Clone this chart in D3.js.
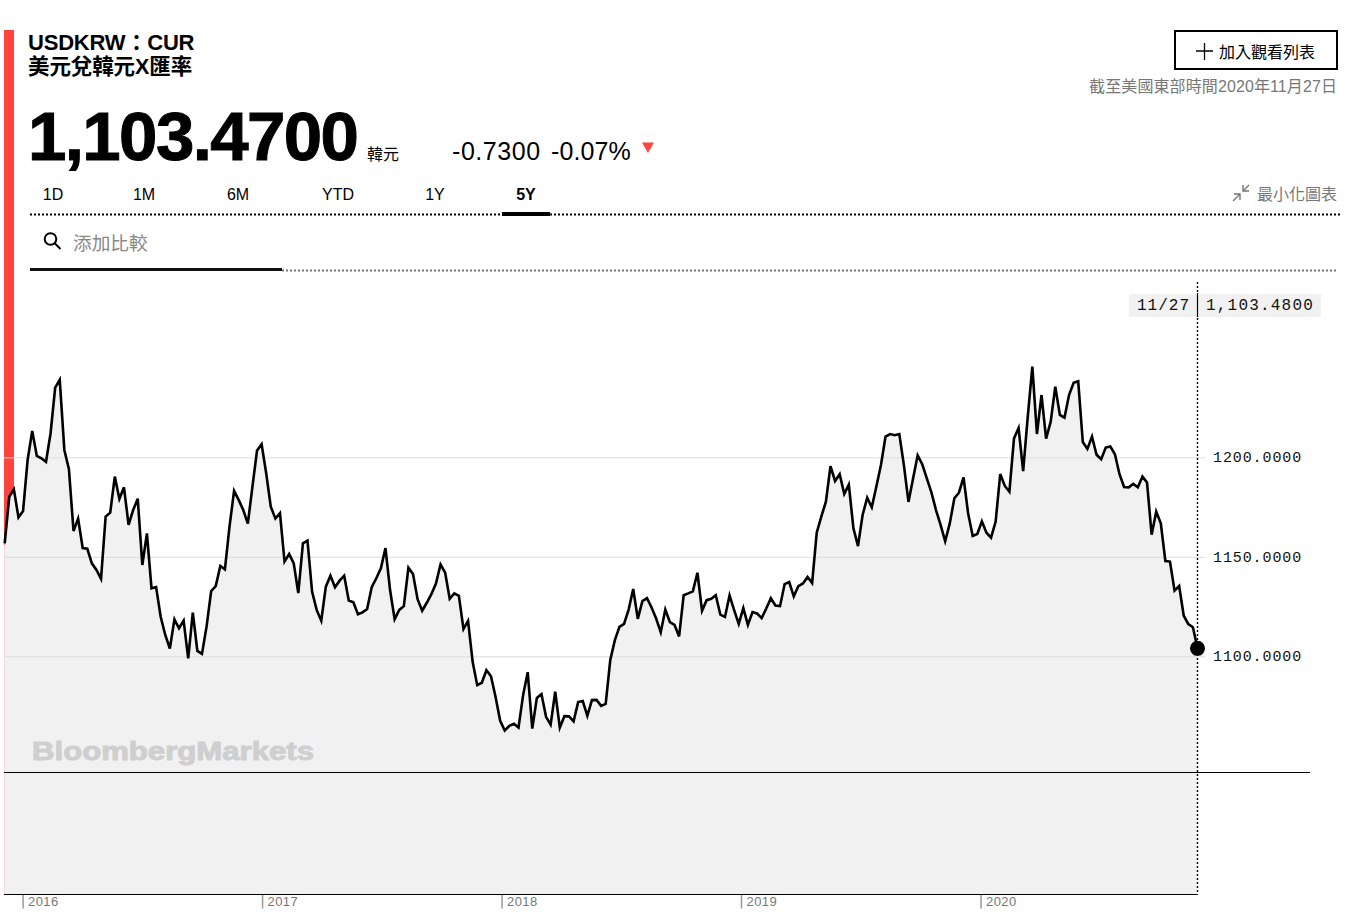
<!DOCTYPE html>
<html>
<head>
<meta charset="utf-8">
<title>USDKRW</title>
<script src="https://cdn.jsdelivr.net/npm/d3@7"></script>
<style>
  html, body { margin: 0; padding: 0; background: #fff; }
  svg { display: block; }
  text { font-family: "Liberation Sans", "Noto Sans CJK TC", sans-serif; }
  .mono { font-family: "Liberation Mono", monospace; }
</style>
</head>
<body>
<svg id="chart" width="1368" height="916"></svg>
<script>
// weekly closes
const closes = [
  1156.8, 1180.2, 1183.9, 1169.8, 1173, 1198.7, 1213.2, 1200.7, 1199.5, 1197.7,
  1212.1, 1235, 1238.9, 1203.7, 1194, 1163, 1169.2, 1154.4, 1154.1, 1146.7,
  1143.4, 1138.9, 1170.2, 1172.2, 1190.3, 1179.1, 1184.9, 1166, 1173.5, 1179.2,
  1145.9, 1161.8, 1134.2, 1134.8, 1119.9, 1110.7, 1103.9, 1118.6, 1114.1, 1117.9,
  1099, 1121.9, 1102.7, 1101.2, 1114.9, 1132.7, 1135.3, 1145.4, 1143.7, 1165.2,
  1183.1, 1178.6, 1173.5, 1166.7, 1185.3, 1203.4, 1206.5, 1192, 1175.2, 1169.2,
  1171.9, 1147.6, 1151.4, 1146.7, 1131.8, 1156.8, 1158.1, 1132.5, 1123.3, 1117.9,
  1135, 1140.5, 1134.7, 1138, 1140.5, 1128, 1127.1, 1121.1, 1122.1, 1123.8,
  1134.7, 1139.2, 1144.2, 1154.4, 1133.3, 1118.6, 1123.3, 1125.2, 1144.5, 1141.3,
  1128.7, 1122.9, 1126.9, 1131.2, 1136.6, 1146.1, 1142.1, 1128.9, 1131.6, 1130.4,
  1113.7, 1117.8, 1097.2, 1085.5, 1086.7, 1093, 1090, 1079.6, 1067.6, 1062.7,
  1065.1, 1066.1, 1064.2, 1080.5, 1092, 1063.7, 1079.1, 1081, 1069.6, 1065.7,
  1082.2, 1064.2, 1069.9, 1069.8, 1067.3, 1077, 1077.5, 1070.1, 1078, 1078.1,
  1075.1, 1076.1, 1098.1, 1108.1, 1114.8, 1116.3, 1123.5, 1133.8, 1118.8, 1127.7,
  1129.2, 1124.5, 1119, 1112.1, 1123.5, 1117.2, 1115.8, 1110, 1130.7, 1131.6,
  1132.6, 1142, 1122.9, 1128.2, 1128.9, 1130.7, 1120.9, 1119.8, 1130.6, 1123.2,
  1116.3, 1124.2, 1115.8, 1122.2, 1121.5, 1119.2, 1124, 1129.2, 1125.5, 1125.2,
  1136.3, 1137.3, 1130.1, 1135.3, 1136.6, 1139.9, 1136.8, 1162.1, 1170.2, 1177.7,
  1195.6, 1188.1, 1191.5, 1181.6, 1186.3, 1164.3, 1155.4, 1171, 1179.7, 1174.9,
  1185.3, 1196.1, 1210.4, 1211.7, 1211.1, 1211.7, 1196.1, 1177.6, 1189.4, 1201,
  1196.5, 1189.4, 1182.4, 1173.5, 1166, 1157.8, 1166.8, 1179.4, 1182.2, 1189.9,
  1171.9, 1160.5, 1161.5, 1167.8, 1162.1, 1159.6, 1167.7, 1191.6, 1185.6, 1182.7,
  1209.5, 1214.7, 1193, 1220.4, 1245.6, 1211.7, 1231.3, 1209.4, 1217.9, 1235.5,
  1221.3, 1219.9, 1231.3, 1237.4, 1238.2, 1207.7, 1204.2, 1210.4, 1201.3, 1199,
  1204.9, 1205.4, 1201.5, 1191.5, 1185.1, 1184.9, 1186.6, 1184.9, 1190.3, 1187.3,
  1161.1, 1172.7, 1166.8, 1147.9, 1147.6, 1133, 1135.3, 1120.4, 1116.2, 1114.6,
  1104
];
const yTicks = [1100, 1150, 1200];
const yearTicks = [3.9, 56.1, 108.3, 160.5, 212.7];
const yearLabels = ["2016", "2017", "2018", "2019", "2020"];
const rangeTabs = ["1D", "1M", "6M", "YTD", "1Y", "5Y"];
const tabCenters = [53, 144, 238, 338, 435, 526];

const svg = d3.select("#chart");
const plotLeft = 4.7, plotRight = 1197.5, plotBottom = 894.5, volumeTop = 772.5;

const x = d3.scaleLinear().domain([0, closes.length - 1]).range([plotLeft, plotRight]);
const y = d3.scaleLinear().domain([1100, 1200]).range([656.3, 457.3]);

// red side bar sits under the area fill
svg.append("rect").attr("x", 4).attr("y", 30).attr("width", 10).attr("height", 864).attr("fill", "#ff433d");

function drawChart() {
  const area = d3.area().x((d, i) => x(i)).y0(plotBottom).y1((d) => y(d));
  const line = d3.line().x((d, i) => x(i)).y((d) => y(d));

  svg.append("path").datum(closes).attr("d", area).attr("fill", "#f1f1f1");
  // faint pink edge left of the fill
  svg.append("rect").attr("x", 4).attr("y", 545).attr("width", 1).attr("height", 349).attr("fill", "#fbd9d7");

  const yAxis = svg.append("g")
    .attr("transform", "translate(1205,0)")
    .call(d3.axisRight(y).tickValues(yTicks).tickFormat(d3.format(".4f")).tickSize(-1201).tickPadding(8));
  yAxis.select(".domain").remove();
  yAxis.selectAll("line").attr("stroke", "#dcdcdc").attr("stroke-width", 1);
  yAxis.selectAll("text")
    .attr("class", "mono")
    .attr("x", 8)
    .attr("dy", "0.28em")
    .attr("font-size", 15)
    .attr("letter-spacing", 0.9)
    .attr("fill", "#111");

  // watermark
  svg.append("text")
    .attr("x", 32).attr("y", 760)
    .attr("font-size", 26).attr("font-weight", 700)
    .attr("fill", "#cfcfcf").attr("stroke", "#cfcfcf").attr("stroke-width", 1)
    .attr("textLength", 282).attr("lengthAdjust", "spacingAndGlyphs")
    .text("BloombergMarkets");

  svg.append("line").attr("x1", 4).attr("x2", 1310).attr("y1", volumeTop).attr("y2", volumeTop)
    .attr("stroke", "#000").attr("stroke-width", 1);

  const xAxis = svg.append("g")
    .attr("transform", `translate(0,${plotBottom})`)
    .call(d3.axisBottom(x).tickValues(yearTicks).tickFormat((d, i) => yearLabels[i]).tickSize(14));
  xAxis.select(".domain").remove();
  xAxis.selectAll("line").attr("stroke", "#999").attr("stroke-width", 1.5);
  xAxis.selectAll("text")
    .attr("text-anchor", "start")
    .attr("x", 5).attr("y", 2).attr("dy", "0.71em")
    .attr("font-size", 13).attr("letter-spacing", 0.4)
    .attr("fill", "#777");

  svg.append("line").attr("x1", 4).attr("x2", plotRight).attr("y1", plotBottom).attr("y2", plotBottom)
    .attr("stroke", "#000").attr("stroke-width", 1);

  svg.append("path").datum(closes).attr("d", line)
    .attr("fill", "none").attr("stroke", "#000").attr("stroke-width", 2.6)
    .attr("stroke-linejoin", "miter");

  // crosshair + value label
  svg.append("line").attr("x1", plotRight).attr("x2", plotRight).attr("y1", 282).attr("y2", plotBottom)
    .attr("stroke", "#000").attr("stroke-width", 1.4).attr("stroke-dasharray", "2 2");
  svg.append("rect").attr("x", 1129).attr("y", 294).attr("width", 192).attr("height", 23).attr("fill", "#f1f1f1");
  svg.append("line").attr("x1", plotRight).attr("x2", plotRight).attr("y1", 293).attr("y2", 317)
    .attr("stroke", "#000").attr("stroke-width", 1.2);
  svg.append("text").attr("class", "mono").attr("x", 1137).attr("y", 310)
    .attr("font-size", 16).attr("letter-spacing", 1).attr("fill", "#111").text("11/27");
  svg.append("text").attr("class", "mono").attr("x", 1206).attr("y", 310)
    .attr("font-size", 16).attr("letter-spacing", 1.2).attr("fill", "#111").text("1,103.4800");

  svg.append("circle").attr("cx", x(closes.length - 1)).attr("cy", y(closes[closes.length - 1])).attr("r", 7.5).attr("fill", "#000");
}

function drawHeader() {
  const label = (tx, ty, size, str, opts = {}) =>
    svg.append("text").attr("x", tx).attr("y", ty).attr("font-size", size)
      .attr("font-weight", opts.weight || 400)
      .attr("fill", opts.fill || "#000")
      .attr("text-anchor", opts.anchor || "start")
      .attr("letter-spacing", opts.spacing || 0)
      .text(str);

  label(28, 50, 22, "USDKRW：CUR", { weight: 700, spacing: -0.2 });
  label(28, 74, 21.5, "美元兌韓元X匯率", { weight: 700, spacing: -0.1 });
  label(28, 160, 69, "1,103.4700", { weight: 700, spacing: -1.6 })
    .attr("stroke", "#000").attr("stroke-width", 1);
  label(367, 160, 16, "韓元");
  label(452, 160, 25, "-0.7300", { spacing: 0.55 });
  label(551, 160, 25, "-0.07%", { spacing: 0.1 });
  svg.append("path").attr("d", "M642,142.5 L654,142.5 L648,153 Z").attr("fill", "#ff433d");

  rangeTabs.forEach((t, i) => {
    label(tabCenters[i], 200, 16, t, { anchor: "middle", weight: t === "5Y" ? 700 : 400 });
  });

  label(1337, 200, 16, "最小化圖表", { anchor: "end", fill: "#777" });
  svg.append("path")
    .attr("d", "M1233,201 L1240,194 M1234,194 L1240,194 L1240,200 M1249,185 L1243,191 M1243,185 L1243,191 L1249,191")
    .attr("fill", "none").attr("stroke", "#777").attr("stroke-width", 1.4);

  // watch list button
  svg.append("rect").attr("x", 1175).attr("y", 31).attr("width", 162).attr("height", 38)
    .attr("fill", "#fff").attr("stroke", "#000").attr("stroke-width", 2);
  svg.append("path").attr("d", "M1196,51 L1213,51 M1204.5,43 L1204.5,60").attr("stroke", "#000").attr("stroke-width", 1.3);
  label(1219, 58, 16, "加入觀看列表");
  label(1337, 92, 16, "截至美國東部時間2020年11月27日", { anchor: "end", fill: "#777", spacing: 0.1 });

  // rules
  svg.append("line").attr("x1", 30).attr("x2", 1340).attr("y1", 214.5).attr("y2", 214.5)
    .attr("stroke", "#000").attr("stroke-width", 2).attr("stroke-dasharray", "2 2");
  svg.append("rect").attr("x", 502).attr("y", 212).attr("width", 48).attr("height", 4).attr("fill", "#000");
  svg.append("line").attr("x1", 282).attr("x2", 1338).attr("y1", 270.5).attr("y2", 270.5)
    .attr("stroke", "#777").attr("stroke-width", 2).attr("stroke-dasharray", "2 2");
  svg.append("rect").attr("x", 30).attr("y", 268).attr("width", 252).attr("height", 3).attr("fill", "#111");

  // search box
  svg.append("circle").attr("cx", 50.5).attr("cy", 239).attr("r", 5.8)
    .attr("fill", "none").attr("stroke", "#000").attr("stroke-width", 2);
  svg.append("line").attr("x1", 54.5).attr("y1", 243).attr("x2", 60.5).attr("y2", 249)
    .attr("stroke", "#000").attr("stroke-width", 2);
  label(73, 250, 18.7, "添加比較", { fill: "#888" });
}

drawChart();
drawHeader();
</script>
</body>
</html>
